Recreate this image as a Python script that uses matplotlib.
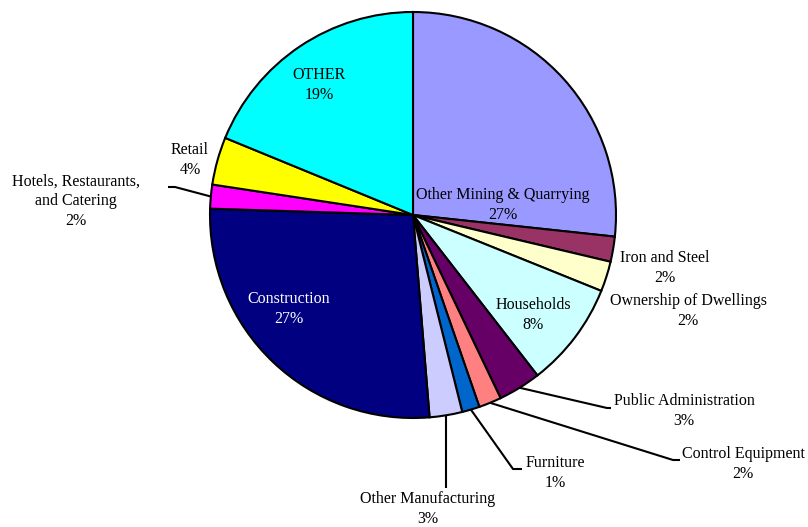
import numpy as np
import matplotlib.pyplot as plt

# sector shares (%), clockwise from 12 o'clock
sectors = ["Other Mining & Quarrying", "Iron and Steel", "Ownership of Dwellings",
           "Households", "Public Administration", "Control Equipment", "Furniture",
           "Other Manufacturing", "Construction", "Hotels, Restaurants,\nand Catering",
           "Retail", "OTHER"]
shares = [26.7, 2.0, 2.4, 8.4, 3.4, 1.8, 1.4, 2.6, 26.8, 1.9, 3.8, 18.8]
colors = ["#9999FF", "#993366", "#FFFFCC", "#CCFFFF", "#660066", "#FF8080",
          "#0066CC", "#CCCCFF", "#000080", "#FF00FF", "#FFFF00", "#00FFFF"]

W, H = 808, 527
fig = plt.figure(figsize=(W / 100, H / 100), dpi=100)
ax = fig.add_axes([0, 0, 1, 1])

cx, cy, R = 413, H - 215, 203
wedges, _ = ax.pie(shares, colors=colors, startangle=90, counterclock=False,
                   center=(cx, cy), radius=R,
                   wedgeprops=dict(edgecolor="black", linewidth=1.5))
ax.set_xlim(0, W)
ax.set_ylim(0, H)
ax.set_aspect("equal")
ax.axis("off")

font = dict(family="Liberation Serif", fontsize=11.5, ha="center", va="center",
            linespacing=1.3)

# label centre (image px) and optional leader path (image px) after the wedge edge
layout = {
    0: ((503, 205), None, "black"),
    1: ((665, 268), None, "black"),
    2: ((688, 311), None, "black"),
    3: ((533, 315), None, "black"),
    4: ((684, 411), [(607, 408), (611, 408)], "black"),
    5: ((743, 464), [(673, 460), (680, 460)], "black"),
    6: ((555, 473), [(513, 469), (522, 469)], "black"),
    7: ((428, 509), [(446, 488)], "black"),
    8: ((289, 309), None, "white"),
    9: ((76, 201), [(175, 187), (168, 187)], "black"),
    10: ((190, 160), None, "black"),
    11: ((319, 85), None, "black"),
}

for i, w in enumerate(wedges):
    (lx, ly), path, col = layout[i]
    txt = f"{sectors[i]}\n{round(shares[i]):d}%"
    ax.text(lx, H - ly, txt, color=col, **font)
    if path:
        mid = np.deg2rad((w.theta1 + w.theta2) / 2)
        xs = [cx + R * np.cos(mid)] + [p[0] for p in path]
        ys = [cy + R * np.sin(mid)] + [H - p[1] for p in path]
        if i == 7:
            xs[1] = xs[0]
        ax.plot(xs, ys, color="black", linewidth=1.5, solid_capstyle="butt")

fig.savefig("out.png", dpi=100)
